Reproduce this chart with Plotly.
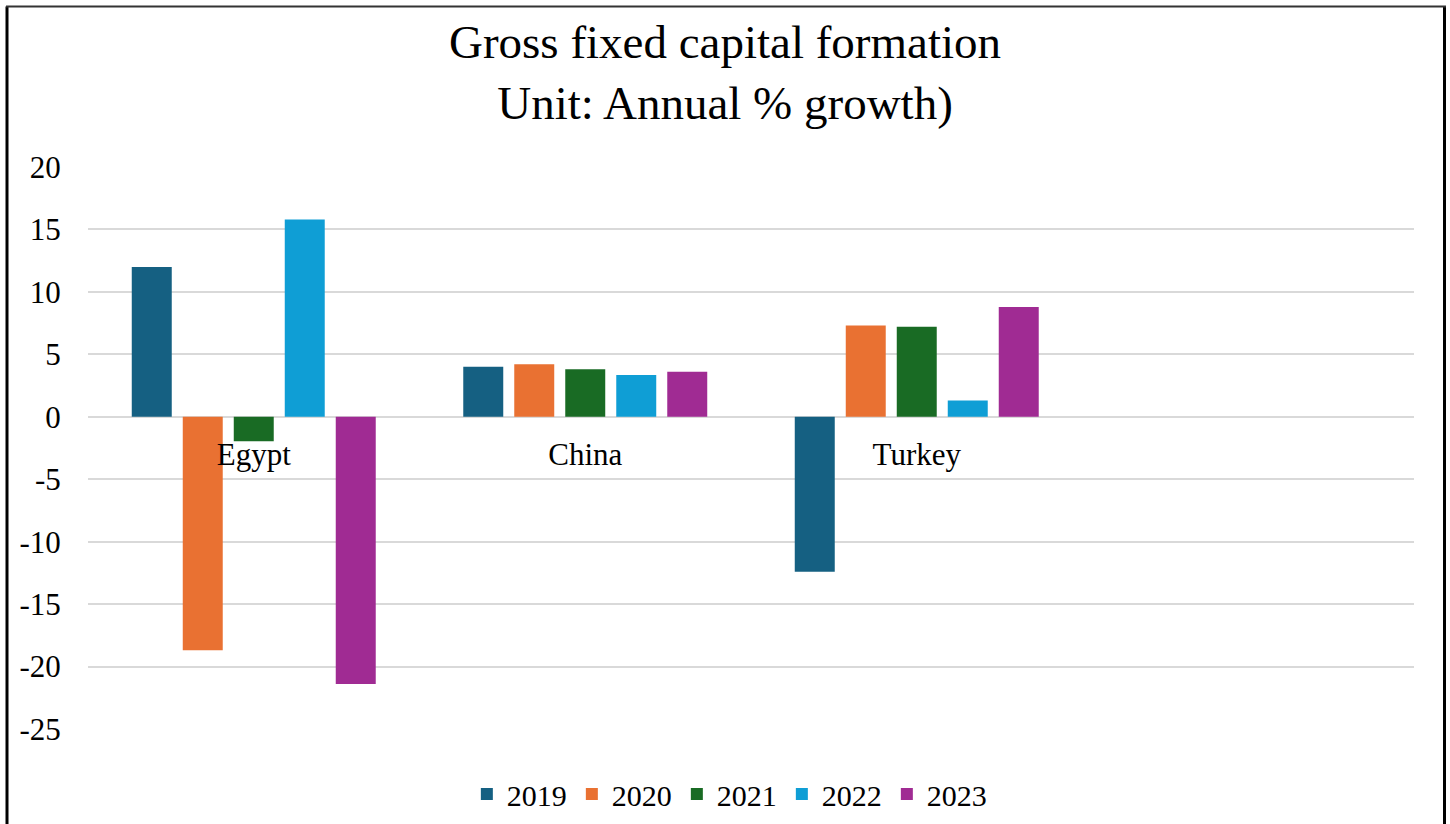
import plotly.graph_objects as go

countries = ["Egypt", "China", "Turkey", " "]
years = ["2019", "2020", "2021", "2022", "2023"]
v2019 = [12.0, 4.0, -12.4]
v2020 = [-18.7, 4.2, 7.3]
v2021 = [-1.95, 3.8, 7.2]
v2022 = [15.8, 3.35, 1.3]
v2023 = [-21.4, 3.6, 8.8]
series = [v2019, v2020, v2021, v2022, v2023]
colors = ["#156082", "#E97132", "#196B24", "#0F9ED5", "#A02B93"]
y_ticks = [20, 15, 10, 5, 0, -5, -10, -15, -20, -25]

FONT = "Liberation Serif, Times New Roman, serif"

fig = go.Figure()
for name, vals, col in zip(years, series, colors):
    fig.add_trace(go.Bar(
        x=countries[:3], y=vals, name=name,
        marker=dict(color=col, line=dict(width=0)),
    ))

fig.update_layout(
    width=1450, height=824,
    margin=dict(l=88, r=36, t=167, b=95, autoexpand=False),
    paper_bgcolor="white", plot_bgcolor="white",
    font=dict(family=FONT, size=30, color="#000000"),
    title=dict(
        text="Gross fixed capital formation<br>Unit: Annual % growth)",
        x=0.5, xref="container", xanchor="center",
        y=(824 - 57.5) / 824, yref="container", yanchor="middle",
        font=dict(family=FONT, size=47, color="#000000"),
    ),
    barmode="group", bargap=0.2308, bargroupgap=0.216,
    showlegend=True,
    legend=dict(
        orientation="h", xref="container", x=0.503, xanchor="center",
        yref="container", y=(824 - 794) / 824, yanchor="middle",
        font=dict(family=FONT, size=30, color="#000000"),
        itemwidth=30, traceorder="normal",
    ),
    xaxis=dict(
        type="category", categoryorder="array", categoryarray=countries,
        range=[-0.5, 3.5], anchor="free", position=25 / 45,
        showgrid=False, showline=False, zeroline=False,
        ticks="outside", ticklen=10, tickcolor="rgba(0,0,0,0)",
        tickfont=dict(family=FONT, size=31, color="#000000"),
    ),
    yaxis=dict(
        range=[-25, 20], tickvals=y_ticks, ticktext=[str(t) for t in y_ticks],
        showgrid=True, gridcolor="#D9D9D9", gridwidth=2,
        zeroline=False, showline=False,
        ticks="outside", ticklen=20, tickcolor="rgba(0,0,0,0)",
        tickfont=dict(family=FONT, size=31, color="#000000"),
    ),
)

# outer frame of the chart
fig.add_shape(type="line", xref="paper", yref="paper",
              x0=(7 - 88) / 1326, x1=(7 - 88) / 1326,
              y0=(729.3 - 6) / 562.6, y1=(729.3 - 840) / 562.6,
              line=dict(color="black", width=3), layer="above")
fig.add_shape(type="line", xref="paper", yref="paper",
              x0=(1444.5 - 88) / 1326, x1=(1444.5 - 88) / 1326,
              y0=(729.3 - 6) / 562.6, y1=(729.3 - 840) / 562.6,
              line=dict(color="black", width=3), layer="above")
fig.add_shape(type="line", xref="paper", yref="paper",
              x0=(6 - 88) / 1326, x1=(1446 - 88) / 1326,
              y0=(729.3 - 6) / 562.6, y1=(729.3 - 6) / 562.6,
              line=dict(color="#333333", width=2), layer="above")

fig.write_html("out.html")
